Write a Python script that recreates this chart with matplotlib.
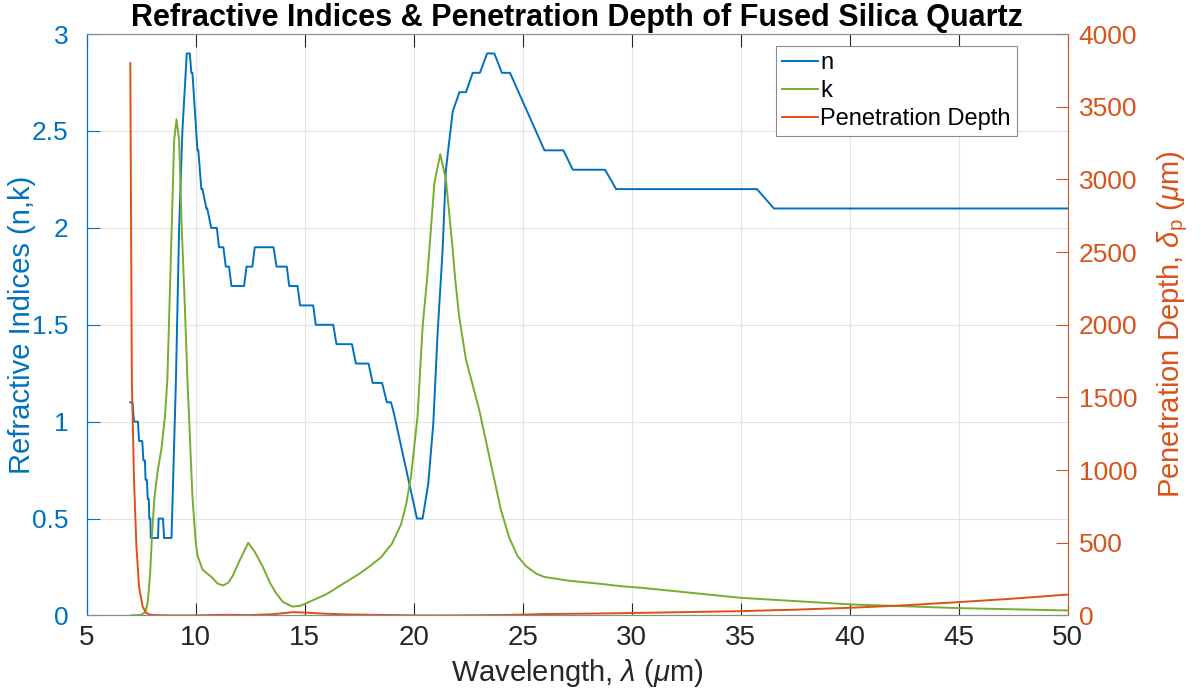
import matplotlib
matplotlib.use('Agg')
import matplotlib.pyplot as plt
from matplotlib.ticker import MultipleLocator

plt.rcParams['font.family'] = ['Liberation Sans', 'DejaVu Sans']
plt.rcParams['mathtext.fontset'] = 'custom'
plt.rcParams['mathtext.rm'] = 'Liberation Sans'
plt.rcParams['mathtext.it'] = 'Liberation Sans:italic'

# ---- data ----
wl_n = [7.0, 7.1, 7.17, 7.35, 7.4, 7.55, 7.6, 7.67, 7.7, 7.76, 7.8, 7.85, 7.87, 7.92,
        7.94, 8.27, 8.3, 8.5, 8.55, 8.89, 9.09, 9.24, 9.39, 9.59, 9.73, 9.8, 9.85,
        10.08, 10.12, 10.26, 10.31, 10.49, 10.53, 10.71, 10.97, 11.07, 11.27, 11.38,
        11.53, 11.64, 12.22, 12.33, 12.6, 12.71, 13.57, 13.71, 14.18, 14.29, 14.67,
        14.79, 15.39, 15.51, 16.31, 16.46, 17.17, 17.35, 17.93, 18.12, 18.55, 18.77,
        18.96, 19.1, 20.15, 20.41, 20.67, 20.9, 21.1, 21.33, 21.48, 21.79, 22.1, 22.4,
        22.71, 23.04, 23.37, 23.7, 24.05, 24.42, 26.0, 26.87, 27.3, 28.78, 29.29,
        35.75, 36.53, 50.0]
n_vals = [1.1, 1.1, 1.0, 1.0, 0.9, 0.9, 0.8, 0.8, 0.7, 0.7, 0.6, 0.6, 0.5, 0.5,
          0.4, 0.4, 0.5, 0.5, 0.4, 0.4, 1.2, 2.0, 2.5, 2.9, 2.9, 2.8, 2.8,
          2.4, 2.4, 2.2, 2.2, 2.1, 2.1, 2.0, 2.0, 1.9, 1.9, 1.8,
          1.8, 1.7, 1.7, 1.8, 1.8, 1.9, 1.9, 1.8, 1.8, 1.7, 1.7,
          1.6, 1.6, 1.5, 1.5, 1.4, 1.4, 1.3, 1.3, 1.2, 1.2, 1.1,
          1.1, 1.04, 0.5, 0.5, 0.68, 0.99, 1.46, 1.89, 2.3, 2.6, 2.7, 2.7,
          2.8, 2.8, 2.9, 2.9, 2.8, 2.8, 2.4, 2.4, 2.3, 2.3, 2.2,
          2.2, 2.1, 2.1]

wl_k = [7.0, 7.5, 7.7, 7.8, 7.9, 8.0, 8.1, 8.25, 8.44, 8.6, 8.7, 8.9, 9.01, 9.12,
        9.24, 9.36, 9.5, 9.62, 9.85, 10.0, 10.08, 10.31, 10.77, 11.0, 11.26, 11.5,
        11.69, 12.0, 12.41, 12.7, 13.07, 13.4, 13.68, 14.0, 14.44, 14.8, 15.05, 15.5,
        16.0, 16.5, 17.0, 17.5, 18.0, 18.5, 19.0, 19.42, 19.65, 19.88, 20.18, 20.41,
        20.61, 20.72, 20.95, 21.22, 21.48, 21.79, 21.91, 22.09, 22.4, 23.01, 23.47,
        24.0, 24.39, 24.77, 25.16, 25.62, 25.99, 27.07, 28.6, 29.52, 30.44, 35.03,
        40.08, 45.05, 50.0]
k_vals = [0.0, 0.003, 0.02, 0.07, 0.2, 0.42, 0.6, 0.74, 0.87, 1.04, 1.22, 2.0, 2.45, 2.56,
          2.45, 2.0, 1.6, 1.22, 0.615, 0.38, 0.31, 0.237, 0.194, 0.165, 0.155, 0.17,
          0.203, 0.28, 0.375, 0.33, 0.254, 0.17, 0.117, 0.07, 0.046, 0.05, 0.062, 0.085,
          0.11, 0.145, 0.18, 0.215, 0.255, 0.30, 0.37, 0.47, 0.57, 0.72, 1.03, 1.49,
          1.73, 1.89, 2.23, 2.38, 2.25, 1.89, 1.73, 1.54, 1.32, 1.06, 0.82,
          0.546, 0.40, 0.306, 0.254, 0.216, 0.199, 0.18, 0.163, 0.151, 0.143, 0.091,
          0.057, 0.038, 0.026]

wl_pd = [7.0, 7.07, 7.17, 7.28, 7.4, 7.56, 7.71, 7.9, 8.2, 9.0, 10.0, 11.0, 11.5,
         12.4, 13.5, 14.45, 15.0, 16.0, 17.0, 18.0, 19.0, 20.0, 21.0, 22.0, 24.0,
         25.0, 26.0, 28.0, 29.52, 32.0, 35.0, 37.5, 40.0, 42.5, 45.0, 47.5, 50.0]
pd_vals = [3800, 1620, 935, 476, 200, 64, 20, 6, 2, 0.5, 1, 4, 5,
           2.5, 8, 23, 20, 12, 7, 5, 3, 1, 0.5, 1, 3,
           6, 10, 13, 16, 22, 30, 40, 53, 70, 92, 116, 144]

x_ticks = [5, 10, 15, 20, 25, 30, 35, 40, 45, 50]
title = 'Refractive Indices & Penetration Depth of Fused Silica Quartz'

BLUE = '#0072BD'
ORANGE = '#D95319'
GREEN = '#77AC30'
DARK = '#262626'

fig = plt.figure(figsize=(12.01, 6.98), dpi=100)
ax1 = fig.add_axes([0.0722, 0.1182, 0.8167, 0.833])
ax2 = ax1.twinx()

l1, = ax1.plot(wl_n, n_vals, color=BLUE, lw=1.4)
l2, = ax1.plot(wl_k, k_vals, color=GREEN, lw=1.4)
l3, = ax2.plot(wl_pd, pd_vals, color=ORANGE, lw=1.4)

ax1.set_xlim(5, 50)
ax1.set_ylim(0, 3)
ax2.set_ylim(0, 4000)
ax1.set_xticks(x_ticks)
ax1.yaxis.set_major_locator(MultipleLocator(0.5))
ax2.yaxis.set_major_locator(MultipleLocator(500))
ax1.yaxis.set_major_formatter(plt.FuncFormatter(lambda v, p: ('%g' % v)))

ax1.grid(True, color='#e3e3e3', lw=0.8)
ax1.set_axisbelow(True)

ax1.tick_params(axis='x', direction='in', length=9, width=0.8, colors=DARK,
                labelsize=20, pad=7, top=True, labelcolor=DARK)
ax1.tick_params(axis='y', direction='in', length=9, width=0.8, colors=BLUE,
                labelsize=19, pad=13)
ax2.tick_params(axis='y', direction='in', length=9, width=0.8, colors=ORANGE,
                labelsize=19, pad=8)

for sp in ['top', 'bottom']:
    ax1.spines[sp].set_color('#8c8c8c')
    ax2.spines[sp].set_color('#8c8c8c')
ax1.spines['left'].set_color(BLUE)
ax2.spines['left'].set_color(BLUE)
ax2.spines['right'].set_color(ORANGE)
ax1.spines['right'].set_visible(False)
for a in (ax1, ax2):
    for sp in a.spines.values():
        sp.set_linewidth(0.8)

ax1.set_xlabel(r'Wavelength, $\lambda$ ($\mu$m)', fontsize=21, color=DARK, labelpad=4)
ax1.set_ylabel('Refractive Indices (n,k)', fontsize=21, color=BLUE)
ax1.yaxis.set_label_coords(-0.052, 0.5)
ax2.set_ylabel(r'Penetration Depth, $\delta_{\rm p}$ ($\mu$m)', fontsize=21, color=ORANGE)
ax2.yaxis.set_label_coords(1.09, 0.5)
ax1.set_title(title, fontsize=22, fontweight='bold', color='black', pad=6)

leg = ax2.legend([l1, l2, l3], ['n', 'k', 'Penetration Depth'], loc='upper right',
                 bbox_to_anchor=(0.948, 0.979), fontsize=17, fancybox=False,
                 framealpha=1, edgecolor='#8c8c8c', handlelength=1.5,
                 handletextpad=0.1, labelspacing=0.25, borderpad=0.25,
                 borderaxespad=0)
leg.get_frame().set_linewidth(0.8)

fig.savefig('out.png', dpi=100)
